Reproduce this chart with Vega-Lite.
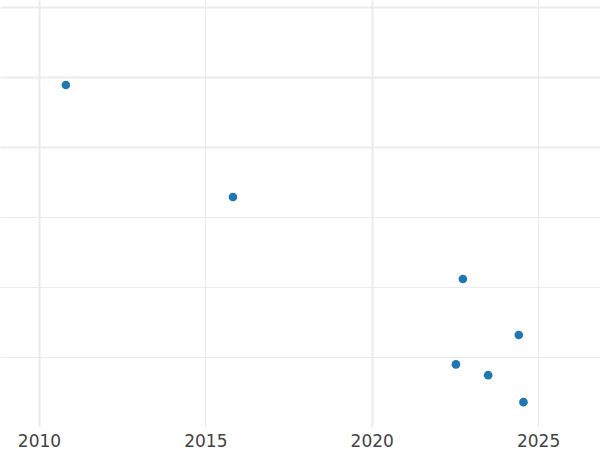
{
  "$schema": "https://vega.github.io/schema/vega-lite/v6.json",
  "width": 600,
  "height": 427,
  "autosize": {"type": "none"},
  "padding": {"left": 0, "top": 0, "right": 0, "bottom": 23},
  "background": "white",
  "config": {"view": {"stroke": null}},
  "data": {"values": [
    {"year": 2010.81, "value": 48.86},
    {"year": 2015.83, "value": 32.86},
    {"year": 2022.74, "value": 21.14},
    {"year": 2024.42, "value": 13.14},
    {"year": 2022.53, "value": 8.95},
    {"year": 2023.5, "value": 7.4},
    {"year": 2024.56, "value": 3.55}
  ]},
  "mark": {"type": "circle", "size": 75, "opacity": 1, "color": "#1f77b4"},
  "encoding": {
    "x": {
      "field": "year", "type": "quantitative",
      "scale": {"domain": [2008.83, 2026.86], "nice": false, "zero": false},
      "axis": {
        "title": null, "values": [2010, 2015, 2020, 2025], "format": "d",
        "domain": false, "ticks": false, "labelPadding": 6,
        "labelFont": "DejaVu Sans", "labelFontSize": 17, "labelColor": "#444444",
        "gridColor": "#ebebeb",
        "gridWidth": {"condition": {"test": "datum.value == 2010 || datum.value == 2020", "value": 2}, "value": 1}
      }
    },
    "y": {
      "field": "value", "type": "quantitative",
      "scale": {"domain": [0, 61], "nice": false, "zero": false},
      "axis": {
        "title": null, "values": [10, 20, 30, 40, 50, 60], "labels": false,
        "domain": false, "ticks": false,
        "gridColor": "#ebebeb",
        "gridWidth": {"condition": {"test": "datum.value >= 40", "value": 2}, "value": 1}
      }
    }
  }
}
